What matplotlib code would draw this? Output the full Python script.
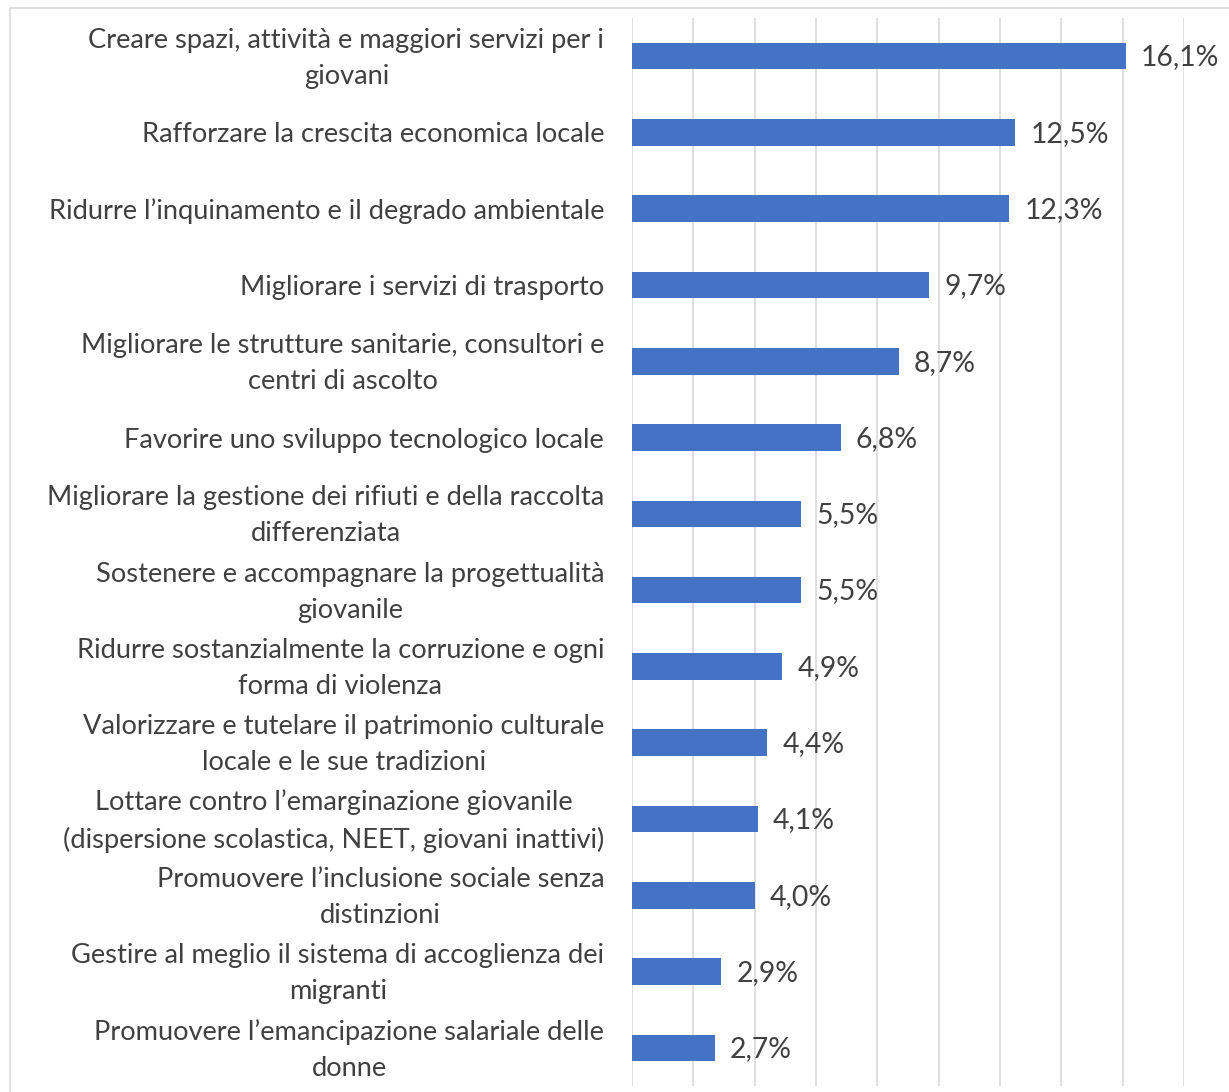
import matplotlib.pyplot as plt
from matplotlib.patches import Rectangle
from matplotlib.transforms import ScaledTranslation

plt.rcParams['font.family'] = ['Lato', 'DejaVu Sans']

# dati (dall'alto verso il basso)
categorie = [
    "Creare spazi, attività e maggiori servizi per i\ngiovani",
    "Rafforzare la crescita economica locale",
    "Ridurre l\u2019inquinamento e il degrado ambientale",
    "Migliorare i servizi di trasporto",
    "Migliorare le strutture sanitarie, consultori e\ncentri di ascolto",
    "Favorire uno sviluppo tecnologico locale",
    "Migliorare la gestione dei rifiuti e della raccolta\ndifferenziata",
    "Sostenere e accompagnare la progettualità\ngiovanile",
    "Ridurre sostanzialmente la corruzione e ogni\nforma di violenza",
    "Valorizzare e tutelare il patrimonio culturale\nlocale e le sue tradizioni",
    "Lottare contro l\u2019emarginazione giovanile\n(dispersione scolastica, NEET, giovani inattivi)",
    "Promuovere l\u2019inclusione sociale senza\ndistinzioni",
    "Gestire al meglio il sistema di accoglienza dei\nmigranti",
    "Promuovere l\u2019emancipazione salariale delle\ndonne",
]
valori = [16.1, 12.5, 12.3, 9.7, 8.7, 6.8, 5.5, 5.5, 4.9, 4.4, 4.1, 4.0, 2.9, 2.7]

W, H = 1229, 1092
fig = plt.figure(figsize=(W / 100, H / 100), dpi=100)

# cornice del grafico (stile Excel)
fig.patches.append(Rectangle((10 / W, -0.05), 1.0, 1.05 - 8 / H,
                             transform=fig.transFigure, fill=False,
                             edgecolor='#d9d9d9', linewidth=1.2))

ax = fig.add_axes([632 / W, 1 - 1086 / H, (1184 - 632) / W, (1086 - 18) / H])

y = list(range(len(valori)))
ax.barh(y, valori, height=0.35, color='#4472C4', zorder=2)
ax.set_ylim(len(valori) - 0.5, -0.5)
ax.set_xlim(0, 18)
ax.set_xticks(range(0, 19, 2))
ax.xaxis.grid(True, color='#d9d9d9', linewidth=1.2, zorder=0)
ax.tick_params(axis='x', length=0, labelbottom=False)
ax.tick_params(axis='y', length=0, pad=20)
for s in ax.spines.values():
    s.set_visible(False)

ax.set_yticks(y)
labels = ax.set_yticklabels(categorie, fontsize=19.6, color='#404040',
                            multialignment='center', linespacing=1.55)
# le etichette su due righe vanno un po' più in alto
shift = ScaledTranslation(0, 6 / 100, fig.dpi_scale_trans)
for lab in labels:
    if '\n' in lab.get_text():
        lab.set_transform(lab.get_transform() + shift)

for yi, v in zip(y, valori):
    ax.annotate(f"{v:.1f}%".replace('.', ','), (v, yi), xytext=(11, -1),
                textcoords='offset points', va='center', ha='left',
                fontsize=20.4, color='#404040')

fig.savefig('out.png', dpi=100)
